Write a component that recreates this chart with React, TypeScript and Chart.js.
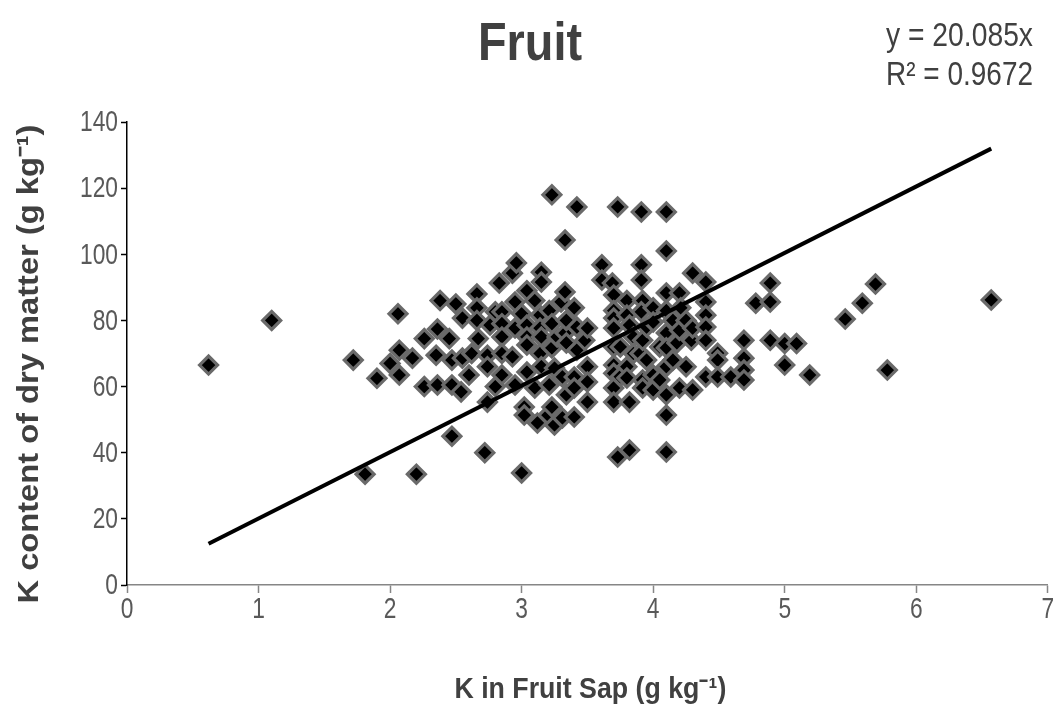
import { useEffect, useRef } from 'react';
import { Chart, registerables } from 'chart.js';

Chart.register(...registerables);

// K in fruit sap (g kg-1)
const sapK: number[] = [
  0.62, 1.1, 1.72, 1.81, 1.9, 2.0, 2.06, 2.07, 2.07, 2.17, 2.2, 2.26, 2.26, 2.35, 2.36, 2.36, 2.38, 2.45,
  2.47, 2.47, 2.47, 2.5, 2.54, 2.55, 2.55, 2.6, 2.62, 2.66, 2.66, 2.66, 2.67, 2.72, 2.74, 2.74, 2.74,
  2.76, 2.8, 2.8, 2.83, 2.85, 2.85, 2.85, 2.85, 2.85, 2.93, 2.93, 2.95, 2.95, 2.95, 2.96, 3.0, 3.0,
  3.02, 3.02, 3.04, 3.04, 3.04, 3.04, 3.04, 3.1, 3.1, 3.12, 3.14, 3.14, 3.14, 3.15, 3.15, 3.15, 3.15,
  3.2, 3.21, 3.21, 3.23, 3.23, 3.23, 3.23, 3.25, 3.25, 3.27, 3.3, 3.31, 3.31, 3.33, 3.33, 3.33, 3.34,
  3.34, 3.34, 3.4, 3.4, 3.4, 3.4, 3.42, 3.42, 3.42, 3.48, 3.5, 3.5, 3.5, 3.5, 3.61, 3.61,
  3.69, 3.7, 3.7, 3.7, 3.7, 3.7, 3.7, 3.7, 3.7, 3.7, 3.73, 3.73, 3.75, 3.75, 3.8, 3.8, 3.82, 3.8, 3.8,
  3.82, 3.82, 3.85, 3.85, 3.9, 3.91, 3.91, 3.91, 3.92, 3.91, 3.92, 3.92, 3.92, 3.95, 3.95, 4.0, 4.0,
  4.0, 4.0, 4.05, 4.05, 4.1, 4.1, 4.1, 4.1, 4.1, 4.1, 4.1, 4.1, 4.1, 4.1, 4.15, 4.15, 4.18, 4.2, 4.21,
  4.2, 4.2, 4.25, 4.25, 4.29, 4.3, 4.3, 4.3, 4.4, 4.4, 4.4, 4.4, 4.4, 4.4, 4.49, 4.49, 4.49, 4.59,
  4.69, 4.69, 4.69, 4.69, 4.78, 4.89, 4.89, 4.89, 5.0, 5.09, 5.0, 5.19, 5.46, 5.59, 5.69, 5.78, 6.57,
];

// K content of dry matter (g kg-1)
const dryMatterK: number[] = [
  66.5, 80, 68, 33.5, 62.5, 67, 82, 71, 63.5, 68.6, 33.5, 74.5, 60, 69.5, 77.4, 60.5, 86, 74.5,
  68, 60.5, 45, 85, 58.4, 80.7, 68.6, 63.5, 70, 88, 83.8, 80, 74.5, 40, 69.5, 66, 55.3,
  78.6, 82.6, 60, 91.3, 82.6, 79, 75, 70, 63.5, 94.3, 69, 85.6, 77.7, 60.5, 97.4, 82, 33.9,
  53.8, 51.4, 89, 78.6, 75, 72.6, 64.4, 86, 59.6, 49, 81.6, 77.7, 70, 94.6, 91.6, 75, 66,
  51.4, 83, 60.5, 118, 79, 71.7, 53.8, 65.6, 48.4, 75, 85.6, 62.9, 50.5, 104.3, 88.6, 76.2, 80,
  73.2, 57.5, 83.8, 62.9, 59.6, 50.8, 114.3, 78, 71, 74, 77.7, 66, 61.4, 55.3, 96.8, 92.2,
  91.3, 87.7, 83, 80.7, 77.7, 72, 66.5, 64, 59.6, 55.3, 114.3, 38.7, 72, 63, 86, 81.6, 78.6, 66, 62.6,
  55.3, 40.8, 75, 70, 70, 112.8, 96.8, 92.2, 86, 82.6, 74, 62, 59.6, 68, 78, 83.8, 79.5,
  63.5, 59, 72, 62, 112.8, 101, 88.3, 83, 76.2, 71.7, 66, 57.5, 51.4, 40.2, 68, 80, 73.2, 88.3, 83.8,
  77, 59.6, 66, 80, 74, 94.3, 77.7, 59, 91.6, 85.6, 81.6, 78, 74, 62.9, 70.1, 68, 62.9, 62.9,
  74, 68.6, 65, 62, 85.2, 91.3, 85.6, 74, 73, 73, 66.5, 63.5, 80.4, 85.2, 91, 65, 86.2,
];

// Linear trend through the origin, as printed on the chart
const SLOPE = 20.085;
const R_SQUARED = '0.9672';

const TITLE = 'Fruit';
const X_TITLE = 'K in Fruit Sap (g kg\u207B\u00B9)';
const Y_TITLE = 'K content of dry matter (g kg\u207B\u00B9)';

const X_MIN = 0;
const X_MAX = 7;
const X_STEP = 1;
const Y_MIN = 0;
const Y_MAX = 140;
const Y_STEP = 20;

const FONT = '"Liberation Sans", Arial, sans-serif';

// draws text squeezed/stretched horizontally to a target width
function fitText(
  ctx: CanvasRenderingContext2D,
  text: string,
  x: number,
  y: number,
  font: string,
  width: number,
  align: CanvasTextAlign,
) {
  ctx.save();
  ctx.font = font;
  const w = ctx.measureText(text).width || 1;
  ctx.translate(x, y);
  ctx.scale(width / w, 1);
  ctx.textAlign = align;
  ctx.fillText(text, 0, 0);
  ctx.restore();
}

export default function App() {
  const ref = useRef<HTMLCanvasElement | null>(null);

  useEffect(() => {
    if (!ref.current) return;
    const points = sapK.map((x, i) => ({ x, y: dryMatterK[i] }));
    const xLo = Math.min(...sapK);
    const xHi = Math.max(...sapK);
    const trend = [
      { x: xLo, y: SLOPE * xLo },
      { x: xHi, y: SLOPE * xHi },
    ];

    const textPlugin = {
      id: 'chartTexts',
      afterDraw(chart: any) {
        const ctx = chart.ctx as CanvasRenderingContext2D;
        const area = chart.chartArea;
        ctx.save();

        // tick labels (narrow, tall digits)
        ctx.font = `30px ${FONT}`;
        const tickSx = 38 / ctx.measureText('140').width;
        ctx.fillStyle = '#595959';
        ctx.textBaseline = 'middle';
        const xs = chart.scales.x;
        xs.ticks.forEach((t: any) => {
          const px = xs.getPixelForValue(t.value);
          ctx.save();
          ctx.translate(px, 610);
          ctx.scale(tickSx, 1);
          ctx.textAlign = 'center';
          ctx.fillText(String(t.value), 0, 0);
          ctx.restore();
        });
        const ys = chart.scales.y;
        ys.ticks.forEach((t: any) => {
          const py = ys.getPixelForValue(t.value);
          ctx.save();
          ctx.translate(118, py + 1);
          ctx.scale(tickSx, 1);
          ctx.textAlign = 'right';
          ctx.fillText(String(t.value), 0, 0);
          ctx.restore();
        });

        ctx.textBaseline = 'alphabetic';
        ctx.fillStyle = '#404040';
        // title
        fitText(ctx, TITLE, 530, 60, `bold 54px ${FONT}`, 104, 'center');
        // equation
        fitText(ctx, `y = ${SLOPE}x`, 886, 46, `33px ${FONT}`, 147, 'left');
        fitText(ctx, `R\u00B2 = ${R_SQUARED}`, 886, 85, `33px ${FONT}`, 147, 'left');
        // x title
        fitText(ctx, X_TITLE, (area.left + area.right) / 2 + 3, 698, `bold 29px ${FONT}`, 272, 'center');
        // y title
        ctx.save();
        ctx.translate(38, 364);
        ctx.rotate(-Math.PI / 2);
        fitText(ctx, Y_TITLE, 0, 0, `bold 30px ${FONT}`, 479, 'center');
        ctx.restore();
        ctx.restore();
      },
    };

    const chart = new Chart(ref.current, {
      type: 'scatter',
      data: {
        datasets: [
          {
            type: 'line',
            data: trend,
            borderColor: '#000000',
            borderWidth: 4,
            pointRadius: 0,
            showLine: true,
            fill: false,
          } as any,
          {
            data: points,
            pointStyle: 'rectRot',
            pointRadius: 9,
            backgroundColor: '#000000',
            borderColor: '#6a6a6a',
            borderWidth: 3.2,
          },
        ],
      },
      options: {
        responsive: false,
        animation: false,
        layout: { padding: { top: 122, right: 11, bottom: 0, left: 0 } },
        plugins: {
          legend: { display: false },
          tooltip: { enabled: false },
          title: { display: false },
        },
        scales: {
          x: {
            type: 'linear',
            min: X_MIN,
            max: X_MAX,
            ticks: { stepSize: X_STEP, display: false },
            grid: { drawOnChartArea: false, drawTicks: true, tickLength: 8, tickColor: '#868686', tickWidth: 1.5 },
            border: { color: '#868686', width: 1.5 },
            afterFit: (s: any) => {
              s.height = 120;
            },
          },
          y: {
            type: 'linear',
            min: Y_MIN,
            max: Y_MAX,
            ticks: { stepSize: Y_STEP, display: false },
            grid: { drawOnChartArea: false, drawTicks: true, tickLength: 6, tickColor: '#000000', tickWidth: 1.5 },
            border: { color: '#000000', width: 1.5 },
            afterFit: (s: any) => {
              s.width = 127;
            },
          },
        },
      },
      plugins: [textPlugin],
    });
    return () => chart.destroy();
  }, []);

  return (
    <div style={{ position: 'absolute', left: 0, top: 0, width: 1060, height: 705, background: '#ffffff' }}>
      <canvas ref={ref} width={1060} height={705} style={{ display: 'block' }} />
    </div>
  );
}
